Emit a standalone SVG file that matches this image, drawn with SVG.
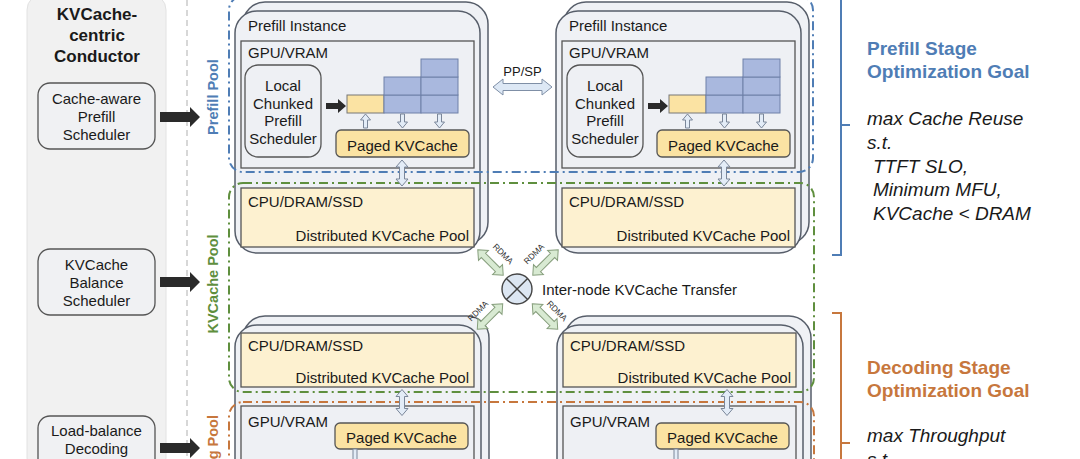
<svg xmlns="http://www.w3.org/2000/svg" xmlns:xlink="http://www.w3.org/1999/xlink" width="1080" height="459" viewBox="0 0 1080 459">
<style>
text{font-family:"Liberation Sans",Arial,sans-serif;fill:#1a1a1a}
.t15{font-size:15px}
.title{font-size:17px;font-weight:bold}
.inst{fill:#eff1f5;stroke:#575e6a;stroke-width:1.5}
.box{fill:#eef0f4;stroke:#555;stroke-width:1.3}
.cpu{fill:#fdf1d0;stroke:#555;stroke-width:1.3}
.paged{fill:#fbe3a3;stroke:#555;stroke-width:1.3}
.ycell{fill:#fbe3a3;stroke:#777;stroke-width:1}
.bcell{fill:#a9b8de;stroke:#6f80a8;stroke-width:1}
.hollow{fill:#e3ecf7;stroke:#7a8699;stroke-width:1}
.rdma{fill:#d8ead2;stroke:#869e7c;stroke-width:1}
.rl{font-size:8.5px;fill:#333}
.sched{fill:#f0f1f3;stroke:#555;stroke-width:1.3}
.pool{fill:none;stroke-width:2;stroke-dasharray:9 4 2 4}
.bigarrow{fill:#2a2a2a}
.goalb{font-size:19px;font-weight:bold}
.goal{font-size:19px;font-style:italic}
.plabel{font-size:14.5px;font-weight:bold}
</style>
<defs>
<path id="up" d="M0,-7 L5,-1 L2,-1 L2,7 L-2,7 L-2,-1 L-5,-1 Z"/>
<path id="vd" d="M0,-13 L6,-6 L2.5,-6 L2.5,6 L6,6 L0,13 L-6,6 L-2.5,6 L-2.5,-6 L-6,-6 Z"/>
<path id="rd" d="M-18,0 L-10,-7 L-10,-3 L10,-3 L10,-7 L18,0 L10,7 L10,3 L-10,3 L-10,7 Z"/>
<path id="big" d="M0,-5 H30 V-10 L40,0 L30,10 V5 H0 Z"/>
</defs>

<g id="conductor">
<rect x="27" y="-6" width="139" height="480" rx="16" fill="#f1f1f1" stroke="#e2e2e2"/>
<text class="title" x="97" y="20" text-anchor="middle">KVCache-</text>
<text class="title" x="97" y="41" text-anchor="middle">centric</text>
<text class="title" x="97" y="62" text-anchor="middle">Conductor</text>
</g>
<g id="sched-prefill">
<rect class="sched" x="38" y="83" width="117" height="66" rx="12"/>
<text class="t15" x="96.5" y="104" text-anchor="middle">Cache-aware</text>
<text class="t15" x="96.5" y="122" text-anchor="middle">Prefill</text>
<text class="t15" x="96.5" y="140" text-anchor="middle">Scheduler</text>
</g>
<g id="sched-kvcache">
<rect class="sched" x="38" y="249" width="117" height="66" rx="12"/>
<text class="t15" x="96.5" y="270" text-anchor="middle">KVCache</text>
<text class="t15" x="96.5" y="288" text-anchor="middle">Balance</text>
<text class="t15" x="96.5" y="306" text-anchor="middle">Scheduler</text>
</g>
<g id="sched-decoding">
<rect class="sched" x="38" y="416" width="117" height="66" rx="12"/>
<text class="t15" x="96.5" y="436" text-anchor="middle">Load-balance</text>
<text class="t15" x="96.5" y="454" text-anchor="middle">Decoding</text>
</g>

<line x1="187" y1="0" x2="187" y2="459" stroke="#bdbdbd" stroke-width="1.2" stroke-dasharray="6 4"/>

<g id="prefill-instance-1">
<rect class="inst" x="243" y="2" width="245" height="242" rx="22"/>
<rect class="inst" x="235" y="11" width="245" height="242" rx="22"/>
<text class="t15" x="248" y="31">Prefill Instance</text>
<rect class="box" x="241" y="41" width="233" height="127"/>
<text class="t15" x="248" y="58">GPU/VRAM</text>
<rect class="box" x="245" y="65" width="76" height="92" rx="13"/>
<text class="t15" x="283" y="91" text-anchor="middle">Local</text>
<text class="t15" x="283" y="108.7" text-anchor="middle">Chunked</text>
<text class="t15" x="283" y="126.3" text-anchor="middle">Prefill</text>
<text class="t15" x="283" y="144" text-anchor="middle">Scheduler</text>
<path d="M326,103 H338 V99 L346,106 L338,113 V109 H326 Z" fill="#2a2a2a"/>
<rect class="ycell" x="347" y="95" width="37" height="18"/>
<rect class="bcell" x="384" y="95" width="37" height="18"/>
<rect class="bcell" x="421" y="95" width="37" height="18"/>
<rect class="bcell" x="384" y="77" width="37" height="18"/>
<rect class="bcell" x="421" y="77" width="37" height="18"/>
<rect class="bcell" x="421" y="59" width="37" height="18"/>
<use href="#up" class="hollow" transform="translate(365.5,121)"/>
<use href="#up" class="hollow" transform="translate(402.5,121) rotate(180)"/>
<use href="#up" class="hollow" transform="translate(439.5,121) rotate(180)"/>
<rect class="paged" x="336" y="130" width="133" height="27" rx="5"/>
<text class="t15" x="402.5" y="150.5" text-anchor="middle">Paged KVCache</text>
<rect class="cpu" x="241" y="188" width="233" height="59"/>
<text class="t15" x="248" y="207">CPU/DRAM/SSD</text>
<text class="t15" x="469" y="240.5" text-anchor="end">Distributed KVCache Pool</text>
</g>

<g id="prefill-instance-2" transform="translate(321,0)">
<rect class="inst" x="243" y="2" width="245" height="242" rx="22"/>
<rect class="inst" x="235" y="11" width="245" height="242" rx="22"/>
<text class="t15" x="248" y="31">Prefill Instance</text>
<rect class="box" x="241" y="41" width="233" height="127"/>
<text class="t15" x="248" y="58">GPU/VRAM</text>
<rect class="box" x="246" y="65" width="76" height="92" rx="13"/>
<text class="t15" x="284" y="91" text-anchor="middle">Local</text>
<text class="t15" x="284" y="108.7" text-anchor="middle">Chunked</text>
<text class="t15" x="284" y="126.3" text-anchor="middle">Prefill</text>
<text class="t15" x="284" y="144" text-anchor="middle">Scheduler</text>
<path d="M327,103 H339 V99 L347,106 L339,113 V109 H327 Z" fill="#2a2a2a"/>
<rect class="ycell" x="348" y="95" width="37" height="18"/>
<rect class="bcell" x="385" y="95" width="37" height="18"/>
<rect class="bcell" x="422" y="95" width="37" height="18"/>
<rect class="bcell" x="385" y="77" width="37" height="18"/>
<rect class="bcell" x="422" y="77" width="37" height="18"/>
<rect class="bcell" x="422" y="59" width="37" height="18"/>
<use href="#up" class="hollow" transform="translate(366.5,121)"/>
<use href="#up" class="hollow" transform="translate(403.5,121) rotate(180)"/>
<use href="#up" class="hollow" transform="translate(440.5,121) rotate(180)"/>
<rect class="paged" x="336" y="130" width="133" height="27" rx="5"/>
<text class="t15" x="402.5" y="150.5" text-anchor="middle">Paged KVCache</text>
<rect class="cpu" x="241" y="188" width="233" height="59"/>
<text class="t15" x="248" y="207">CPU/DRAM/SSD</text>
<text class="t15" x="469" y="240.5" text-anchor="end">Distributed KVCache Pool</text>
</g>

<g id="decoding-instance-1">
<rect class="inst" x="243" y="316" width="246" height="200" rx="22"/>
<rect class="inst" x="235" y="325" width="246" height="200" rx="22"/>
<rect class="cpu" x="241" y="333" width="233" height="54"/>
<text class="t15" x="248" y="351">CPU/DRAM/SSD</text>
<text class="t15" x="469" y="383" text-anchor="end">Distributed KVCache Pool</text>
<rect class="box" x="241" y="406" width="233" height="80"/>
<text class="t15" x="248" y="426.5">GPU/VRAM</text>
<rect class="paged" x="335" y="423" width="133" height="26" rx="5"/>
<text class="t15" x="401.5" y="443" text-anchor="middle">Paged KVCache</text>
<rect class="hollow" x="353" y="449" width="4" height="20"/>
</g>

<g id="decoding-instance-2" transform="translate(322,0)">
<rect class="inst" x="243" y="316" width="246" height="200" rx="22"/>
<rect class="inst" x="235" y="325" width="246" height="200" rx="22"/>
<rect class="cpu" x="241" y="333" width="233" height="54"/>
<text class="t15" x="248" y="351">CPU/DRAM/SSD</text>
<text class="t15" x="469" y="383" text-anchor="end">Distributed KVCache Pool</text>
<rect class="box" x="241" y="406" width="233" height="80"/>
<text class="t15" x="248" y="426.5">GPU/VRAM</text>
<rect class="paged" x="334" y="423" width="133" height="26" rx="5"/>
<text class="t15" x="400.5" y="443" text-anchor="middle">Paged KVCache</text>
<rect class="hollow" x="352" y="449" width="4" height="20"/>
</g>

<g id="pools">
<rect class="pool" x="229" y="-4" width="584" height="176" rx="14" stroke="#4f7db5"/>
<rect class="pool" x="229" y="183" width="585" height="209" rx="14" stroke="#5f8f3e"/>
<rect class="pool" x="229" y="402" width="585" height="120" rx="14" stroke="#c7773d"/>
<text class="plabel" style="fill:#4f7db5" transform="translate(218,97) rotate(-90)" text-anchor="middle">Prefill Pool</text>
<text class="plabel" style="fill:#5f8f3e" transform="translate(218,284) rotate(-90)" text-anchor="middle">KVCache Pool</text>
<text class="plabel" style="fill:#c7773d" transform="translate(218,415) rotate(-90)" text-anchor="end">Decoding Pool</text>
</g>

<g id="transfer-hub">
<circle cx="517" cy="289" r="15" fill="#dce6f2" stroke="#444" stroke-width="1.4"/>
<path d="M506.4,278.4 L527.6,299.6 M527.6,278.4 L506.4,299.6" stroke="#444" stroke-width="1.4"/>
<text class="t15" x="542" y="294.5">Inter-node KVCache Transfer</text>
</g>

<g id="connectors">
<use href="#big" class="bigarrow" transform="translate(160,117)"/>
<use href="#big" class="bigarrow" transform="translate(160,282)"/>
<use href="#big" class="bigarrow" transform="translate(160,448)"/>
<path class="hollow" style="fill:#dde8f5;stroke:#7f8fa6" d="M493,87 L503,79 L503,83.5 L542,83.5 L542,79 L552,87 L542,95 L542,90.5 L503,90.5 L503,95 Z"/>
<text x="522.5" y="76" text-anchor="middle" style="font-size:13px">PP/SP</text>
<use href="#vd" class="hollow" transform="translate(402,173)"/>
<use href="#vd" class="hollow" transform="translate(724,173)"/>
<use href="#vd" class="hollow" transform="translate(402,402.5)"/>
<use href="#vd" class="hollow" transform="translate(727,402.5)"/>
<use href="#rd" class="rdma" transform="translate(490.5,262.5) rotate(45)"/>
<use href="#rd" class="rdma" transform="translate(545.5,262.5) rotate(-45)"/>
<use href="#rd" class="rdma" transform="translate(490,316.5) rotate(-45)"/>
<use href="#rd" class="rdma" transform="translate(545,316.5) rotate(45)"/>
<text class="rl" text-anchor="middle" transform="translate(501,256) rotate(45)">RDMA</text>
<text class="rl" text-anchor="middle" transform="translate(536,256) rotate(-45)">RDMA</text>
<text class="rl" text-anchor="middle" transform="translate(480,313) rotate(-45)">RDMA</text>
<text class="rl" text-anchor="middle" transform="translate(555,313) rotate(45)">RDMA</text>
</g>

<g id="prefill-goal">
<path d="M841,-5 V255 H832 M841,125 H850" fill="none" stroke="#4f7db5" stroke-width="2"/>
<text class="goalb" x="867" y="55" style="fill:#4f7db5">Prefill Stage</text>
<text class="goalb" x="867" y="78" style="fill:#4f7db5">Optimization Goal</text>
<text class="goal" x="867" y="125">max Cache Reuse</text>
<text class="goal" x="867" y="149">s.t.</text>
<text class="goal" x="873" y="173">TTFT SLO,</text>
<text class="goal" x="873" y="196">Minimum MFU,</text>
<text class="goal" x="873" y="220">KVCache &lt; DRAM</text>
</g>
<g id="decoding-goal">
<path d="M832,313 H841 V470 M841,443 H850" fill="none" stroke="#c7773d" stroke-width="2"/>
<text class="goalb" x="867" y="374" style="fill:#c7773d">Decoding Stage</text>
<text class="goalb" x="867" y="397" style="fill:#c7773d">Optimization Goal</text>
<text class="goal" x="867" y="442">max Throughput</text>
<text class="goal" x="867" y="466">s.t.</text>
</g>
</svg>
